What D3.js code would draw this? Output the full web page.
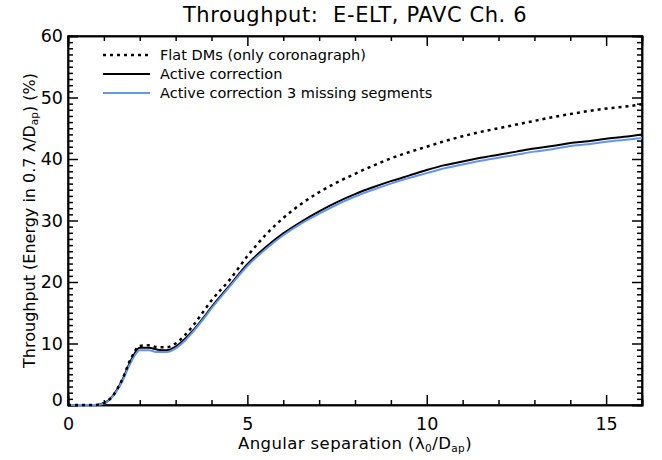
<!DOCTYPE html>
<html>
<head>
<meta charset="utf-8">
<script src="https://cdn.jsdelivr.net/npm/d3@7"></script>
<style>
  body { margin: 0; background: #fff; }
  text { font-family: "DejaVu Sans", "Liberation Sans", sans-serif; fill: #000; white-space: pre; }
  .axis path, .axis line { stroke: #000; stroke-width: 1.5; }
  .axis text { font-size: 17.5px; font-family: "DejaVu Sans", sans-serif; }
</style>
</head>
<body>
<div id="chart"></div>
<script>
// Throughput curves
const sep = [0, 0.25, 0.5, 0.75, 1.0, 1.25, 1.5, 1.75, 2.0, 2.25, 2.5, 2.75, 3.0, 3.25, 3.5, 3.75, 4.0,
  4.5, 5.0, 5.5, 6.0, 6.5, 7.0, 7.5, 8.0, 8.5, 9.0, 9.5, 10.0, 10.5, 11.0, 11.5, 12.0, 12.5, 13.0,
  13.5, 14.0, 14.5, 15.0, 15.5, 16.0];
const flatDMs = [0, 0, 0, 0, 0.3, 1.5, 4.0, 7.5, 9.6, 9.7, 9.4, 9.4, 10.0, 11.3, 13.0, 15.0, 17.0,
  20.3, 24.2, 27.6, 30.4, 32.7, 34.6, 36.2, 37.6, 38.9, 40.1, 41.1, 42.0, 42.9, 43.7, 44.4, 45.0, 45.6, 46.2,
  46.8, 47.3, 47.8, 48.2, 48.5, 48.9];
const active = [0, 0, 0, 0, 0.3, 1.5, 3.9, 7.2, 9.3, 9.3, 9.0, 8.9, 9.5, 10.7, 12.2, 14.0, 15.9,
  19.4, 22.9, 25.6, 27.9, 29.8, 31.5, 33.0, 34.3, 35.4, 36.4, 37.3, 38.2, 39.0, 39.6, 40.2, 40.7, 41.2, 41.7,
  42.1, 42.6, 42.9, 43.3, 43.6, 44.0];
const missing3 = [0, 0, 0, 0, 0.2, 1.4, 3.7, 6.9, 8.9, 8.9, 8.6, 8.6, 9.2, 10.4, 12.0, 13.8, 15.7,
  19.2, 22.6, 25.3, 27.6, 29.5, 31.1, 32.6, 33.9, 35.0, 36.0, 36.9, 37.7, 38.5, 39.1, 39.7, 40.2, 40.7, 41.2,
  41.6, 42.1, 42.4, 42.8, 43.1, 43.4];

const xMajor = [0, 5, 10, 15];
const yMajor = [0, 10, 20, 30, 40, 50, 60];

const width = 662, height = 460;
const margin = { top: 36, right: 20, bottom: 55, left: 68 };
const innerW = width - margin.left - margin.right;
const innerH = height - margin.top - margin.bottom;

const svg = d3.select("#chart").append("svg")
  .attr("width", width).attr("height", height);

const g = svg.append("g").attr("transform", `translate(${margin.left},${margin.top})`);

const x = d3.scaleLinear().domain([0, 16]).range([0, innerW]);
const y = d3.scaleLinear().domain([0, 60]).range([innerH, 0]);

const xMinor = d3.range(0, 17, 1).filter(v => v % 5 !== 0);
const yMinor = d3.range(0, 61, 1).filter(v => v % 10 !== 0);

// minor ticks (inward, all four sides)
g.append("g").attr("class", "axis").attr("transform", `translate(0,${innerH})`)
  .call(d3.axisBottom(x).tickValues(xMinor).tickSize(-5).tickFormat(""));
g.append("g").attr("class", "axis")
  .call(d3.axisTop(x).tickValues(xMinor).tickSize(-5).tickFormat(""));
g.append("g").attr("class", "axis")
  .call(d3.axisLeft(y).tickValues(yMinor).tickSize(-5).tickFormat(""));
g.append("g").attr("class", "axis").attr("transform", `translate(${innerW},0)`)
  .call(d3.axisRight(y).tickValues(yMinor).tickSize(-5).tickFormat(""));

// major ticks
const xb = g.append("g").attr("class", "axis").attr("transform", `translate(0,${innerH})`)
  .call(d3.axisBottom(x).tickValues(xMajor).tickSize(-10).tickPadding(9));
xb.selectAll("text").attr("dy", "0.9em");
g.append("g").attr("class", "axis")
  .call(d3.axisTop(x).tickValues(xMajor).tickSize(-10).tickFormat(""));
const yl = g.append("g").attr("class", "axis")
  .call(d3.axisLeft(y).tickValues(yMajor).tickSize(-10).tickPadding(5));
yl.selectAll("text").filter(d => d === 0).attr("dy", "0.05em");
g.append("g").attr("class", "axis").attr("transform", `translate(${innerW},0)`)
  .call(d3.axisRight(y).tickValues(yMajor).tickSize(-10).tickFormat(""));

// frame
g.append("rect").attr("width", innerW).attr("height", innerH)
  .attr("fill", "none").attr("stroke", "#000").attr("stroke-width", 1.5);

// curves
const line = vals => d3.line()
  .x((d, i) => x(sep[i]))
  .y(d => y(d))
  .curve(d3.curveMonotoneX)(vals);

g.append("path").attr("d", line(active))
  .attr("fill", "none").attr("stroke", "#000").attr("stroke-width", 2);
g.append("path").attr("d", line(missing3))
  .attr("fill", "none").attr("stroke", "#6495ed").attr("stroke-width", 2);
g.append("path").attr("d", line(flatDMs))
  .attr("fill", "none").attr("stroke", "#000").attr("stroke-width", 2.5)
  .attr("stroke-dasharray", "3,4");

// legend
const legend = [
  { label: "Flat DMs (only coronagraph)", color: "#000", dash: "3,4", w: 2.5 },
  { label: "Active correction", color: "#000", dash: null, w: 2 },
  { label: "Active correction 3 missing segments", color: "#6495ed", dash: null, w: 2 }
];
legend.forEach((d, i) => {
  const ly = 19 + i * 19;
  g.append("line").attr("x1", 35).attr("x2", 82).attr("y1", ly).attr("y2", ly)
    .attr("stroke", d.color).attr("stroke-width", d.w)
    .attr("stroke-dasharray", d.dash);
  g.append("text").attr("x", 92).attr("y", ly).attr("dy", "0.35em")
    .style("font-size", "14.5px").text(d.label);
});

// title
svg.append("text").attr("x", margin.left + innerW / 2).attr("y", 22)
  .attr("text-anchor", "middle").style("font-size", "21px").style("letter-spacing", "0.6px")
  .text("Throughput:  E-ELT, PAVC Ch. 6");

// x label
const xt = svg.append("text").attr("x", margin.left + innerW / 2).attr("y", 449)
  .attr("text-anchor", "middle").style("font-size", "16.5px").style("letter-spacing", "0.4px");
xt.append("tspan").text("Angular separation (λ");
xt.append("tspan").attr("baseline-shift", "-25%").style("font-size", "10.5px").text("0");
xt.append("tspan").text("/D");
xt.append("tspan").attr("baseline-shift", "-25%").style("font-size", "10.5px").text("ap");
xt.append("tspan").text(")");

// y label
const yt = svg.append("text")
  .attr("transform", `translate(35,${margin.top + innerH / 2}) rotate(-90)`)
  .attr("text-anchor", "middle").style("font-size", "16px");
yt.append("tspan").text("Throughput (Energy in 0.7 λ/D");
yt.append("tspan").attr("baseline-shift", "-25%").style("font-size", "10.5px").text("ap");
yt.append("tspan").text(") (%)");
</script>
</body>
</html>
